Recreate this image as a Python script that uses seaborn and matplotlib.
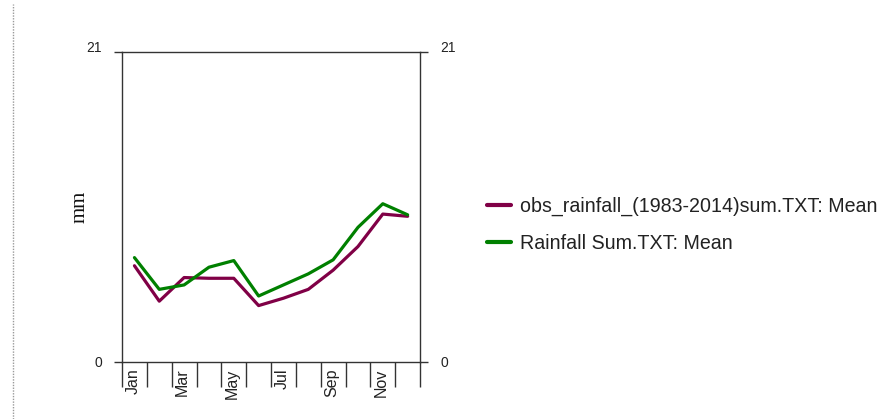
import matplotlib
matplotlib.use("Agg")
import matplotlib.pyplot as plt
from matplotlib.lines import Line2D
from matplotlib.ticker import FixedLocator, FixedFormatter, NullFormatter
import numpy as np
import pandas as pd
import seaborn as sns

# Monthly mean rainfall (mm)
months = ["Jan", "Feb", "Mar", "Apr", "May", "Jun",
          "Jul", "Aug", "Sep", "Oct", "Nov", "Dec"]
obs_mean = [6.5, 4.1, 5.7, 5.65, 5.65, 3.8, 4.3, 4.9, 6.2, 7.8, 10.0, 9.85]
sim_mean = [7.05, 4.9, 5.2, 6.4, 6.85, 4.45, 5.2, 5.95, 6.9, 9.1, 10.7, 9.95]
series_names = ["obs_rainfall_(1983-2014)sum.TXT: Mean", "Rainfall Sum.TXT: Mean"]
series_colors = ["#800046", "#008000"]
tick_months = ["Jan", "Mar", "May", "Jul", "Sep", "Nov"]
y_ticks = [0, 21]

df = pd.DataFrame({
    "month": list(range(12)) * 2,
    "rain": obs_mean + sim_mean,
    "series": [series_names[0]] * 12 + [series_names[1]] * 12,
})

sns.set_theme(style="white")
plt.rcParams["font.family"] = ["Liberation Sans", "DejaVu Sans"]

fig = plt.figure(figsize=(8.83, 4.19), dpi=100)
ax = fig.add_axes([0.1382, 0.1368, 0.3375, 0.7398])

sns.lineplot(data=df, x="month", y="rain", hue="series",
             palette=dict(zip(series_names, series_colors)),
             linewidth=2.3, ax=ax, legend=False)

ax.set_xlim(-0.5, 11.5)
ax.set_ylim(0, 21)

# Month boundaries carry the long tick marks; labels sit just right of them
bounds = np.arange(-0.5, 12.0, 1.0)
ax.xaxis.set_major_locator(FixedLocator(bounds))
ax.xaxis.set_major_formatter(NullFormatter())
label_pos = [months.index(m) - 0.5 + 0.44 for m in tick_months]
ax.xaxis.set_minor_locator(FixedLocator(label_pos))
ax.xaxis.set_minor_formatter(FixedFormatter(tick_months))
ax.tick_params(axis="x", which="major", direction="out", length=18, width=1.0,
               color="#333333", bottom=True, top=False)
ax.tick_params(axis="x", which="minor", length=0, pad=5, labelsize=11.5,
               labelrotation=90, labelcolor="#222222", bottom=True, top=False)
for lab in ax.xaxis.get_minorticklabels():
    lab.set_va("top")

ax.set_yticks(y_ticks)
ax.set_yticklabels([str(v) for v in y_ticks])
ax.tick_params(axis="y", direction="out", length=5.5, width=1.0, color="#333333",
               left=True, right=True, labelleft=True, labelright=True,
               labelcolor="#222222", labelsize=10)
for t in ax.yaxis.get_major_ticks():
    t.set_pad(9)
# the top value sits on its tick
top_tick = ax.yaxis.get_major_ticks()[-1]
top_tick.label1.set_va("baseline")
top_tick.label2.set_va("baseline")

for sp in ax.spines.values():
    sp.set_color("#333333")
    sp.set_linewidth(1.0)

ax.set_xlabel("")
ax.set_ylabel("")
ax.grid(False)

fig.text(80 / 883, 1 - 207 / 419, "mm", rotation=90, ha="center", va="center",
         fontsize=15, family=["Liberation Serif", "DejaVu Serif"], color="#111111")

handles = [Line2D([0], [0], color=c, lw=3.0) for c in series_colors]
fig.legend(handles, series_names, loc="center left",
           bbox_to_anchor=(487 / 883, 1 - 225 / 419), frameon=False,
           fontsize=14.1, handlelength=1.2, handletextpad=0.5,
           labelspacing=0.9, borderpad=0, borderaxespad=0,
           labelcolor="#222222")

# dotted panel divider at the left edge
fig.add_artist(Line2D([13 / 883, 13 / 883], [0, 0.99], transform=fig.transFigure,
                      color="#9a9a9a", lw=1.0, ls=(0, (1, 1))))

fig.savefig("out.png", dpi=100)
